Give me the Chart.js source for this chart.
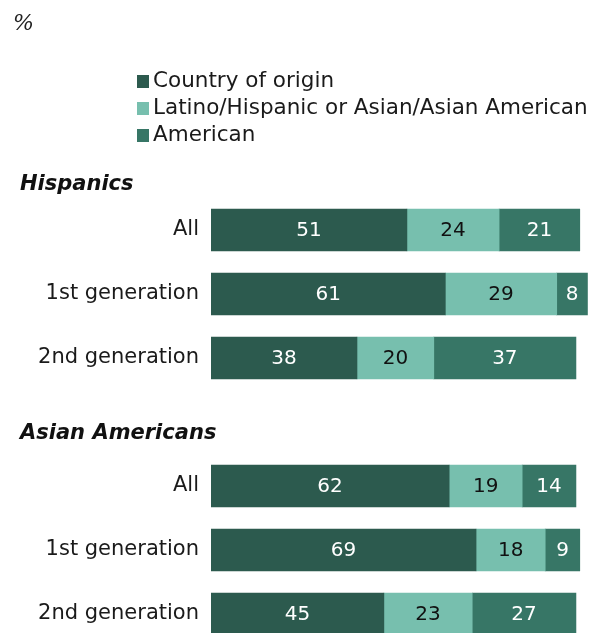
<!DOCTYPE html>
<html>
<head>
<meta charset="utf-8">
<script src="https://cdn.jsdelivr.net/npm/chart.js@4"></script>
<style>
  html, body { margin: 0; padding: 0; background: #fff; overflow: hidden; }
  #wrap { position: relative; width: 589px; height: 660px; }
  #pct { position: absolute; left: 13px; top: 10px; font: italic 22px "DejaVu Serif", serif; color: #222; }
  #legend { position: absolute; left: 137px; top: 66px; font: 21.5px "DejaVu Sans", sans-serif; color: #1a1a1a; }
  #legend div { height: 27px; line-height: 27px; white-space: nowrap; }
  #legend span { display: inline-block; width: 12px; height: 13px; margin-right: 4px; vertical-align: -1px; }
</style>
</head>
<body>
<div id="wrap">
  <div id="pct">%</div>
  <div id="legend"></div>
  <canvas id="chart" width="589" height="660"></canvas>
</div>
<script>
// Groups and the rows inside each one
const groups = ['Hispanics', 'Asian Americans'];
const subgroups = ['All', '1st generation', '2nd generation'];

// Values per series, in order: Hispanics (All, 1st, 2nd), Asian Americans (All, 1st, 2nd)
const countryOfOrigin = [51, 61, 38, 62, 69, 45];
const panEthnic = [24, 29, 20, 19, 18, 23];
const american = [21, 8, 37, 14, 9, 27];

const seriesNames = ['Country of origin', 'Latino/Hispanic or Asian/Asian American', 'American'];
const seriesColors = ['#2c5a4e', '#77bfae', '#377666'];
const labelColors = ['#ffffff', '#111111', '#ffffff'];

// Each group gets an empty slot on top for its heading
const rowLabels = [];
const headingRows = [];
groups.forEach(function(g) {
    headingRows.push(rowLabels.length);
    rowLabels.push('');
    subgroups.forEach(function(s) { rowLabels.push(s); });
});

function withGaps(values) {
    const out = [];
    groups.forEach(function(g, gi) {
        out.push(null);
        subgroups.forEach(function(s, si) { out.push(values[gi * subgroups.length + si]); });
    });
    return out;
}

const seriesValues = [countryOfOrigin, panEthnic, american];

// Legend
const legend = document.getElementById('legend');
seriesNames.forEach(function(name, i) {
    const row = document.createElement('div');
    row.innerHTML = '<span style="background:' + seriesColors[i] + '"></span>' + name;
    legend.appendChild(row);
});

const barText = {
    id: 'barText',
    afterDatasetsDraw(chart) {
        const ctx = chart.ctx;
        ctx.save();
        ctx.font = '20px "DejaVu Sans", sans-serif';
        ctx.textAlign = 'center';
        ctx.textBaseline = 'middle';
        chart.data.datasets.forEach(function(ds, i) {
            chart.getDatasetMeta(i).data.forEach(function(bar, j) {
                const v = ds.data[j];
                if (v == null) return;
                ctx.fillStyle = labelColors[i];
                ctx.fillText(String(v), (bar.x + bar.base) / 2, bar.y + 1);
            });
        });
        ctx.restore();
    }
};

const headings = {
    id: 'headings',
    afterDraw(chart) {
        const ctx = chart.ctx;
        const y = chart.scales.y;
        const shift = [19, 12];
        ctx.save();
        ctx.font = 'italic bold 21px "DejaVu Sans", sans-serif';
        ctx.fillStyle = '#111';
        ctx.textAlign = 'left';
        ctx.textBaseline = 'middle';
        headingRows.forEach(function(r, i) {
            ctx.fillText(groups[i], 20, y.getPixelForValue(r) + shift[i]);
        });
        ctx.restore();
    }
};

new Chart(document.getElementById('chart'), {
    type: 'bar',
    data: {
        labels: rowLabels,
        datasets: seriesNames.map(function(name, i) {
            return {
                label: name,
                data: withGaps(seriesValues[i]),
                backgroundColor: seriesColors[i],
                borderWidth: 0,
                barThickness: 42
            };
        })
    },
    options: {
        indexAxis: 'y',
        responsive: false,
        animation: false,
        layout: { padding: { top: 134, bottom: 14, left: 0, right: 0 } },
        plugins: {
            legend: { display: false },
            tooltip: { enabled: false }
        },
        scales: {
            x: {
                stacked: true,
                min: 0,
                max: 98.4,
                display: false,
                grid: { display: false }
            },
            y: {
                stacked: true,
                grid: { display: false, drawTicks: false },
                border: { display: false },
                // fixed label column, and no extra room for the end labels
                afterFit(scale) {
                    scale.width = 211;
                    scale.paddingTop = 0;
                    scale.paddingBottom = 0;
                },
                ticks: {
                    padding: 12,
                    color: '#1a1a1a',
                    font: { family: '"DejaVu Sans", sans-serif', size: 21 }
                }
            }
        }
    },
    plugins: [barText, headings]
});
</script>
</body>
</html>
